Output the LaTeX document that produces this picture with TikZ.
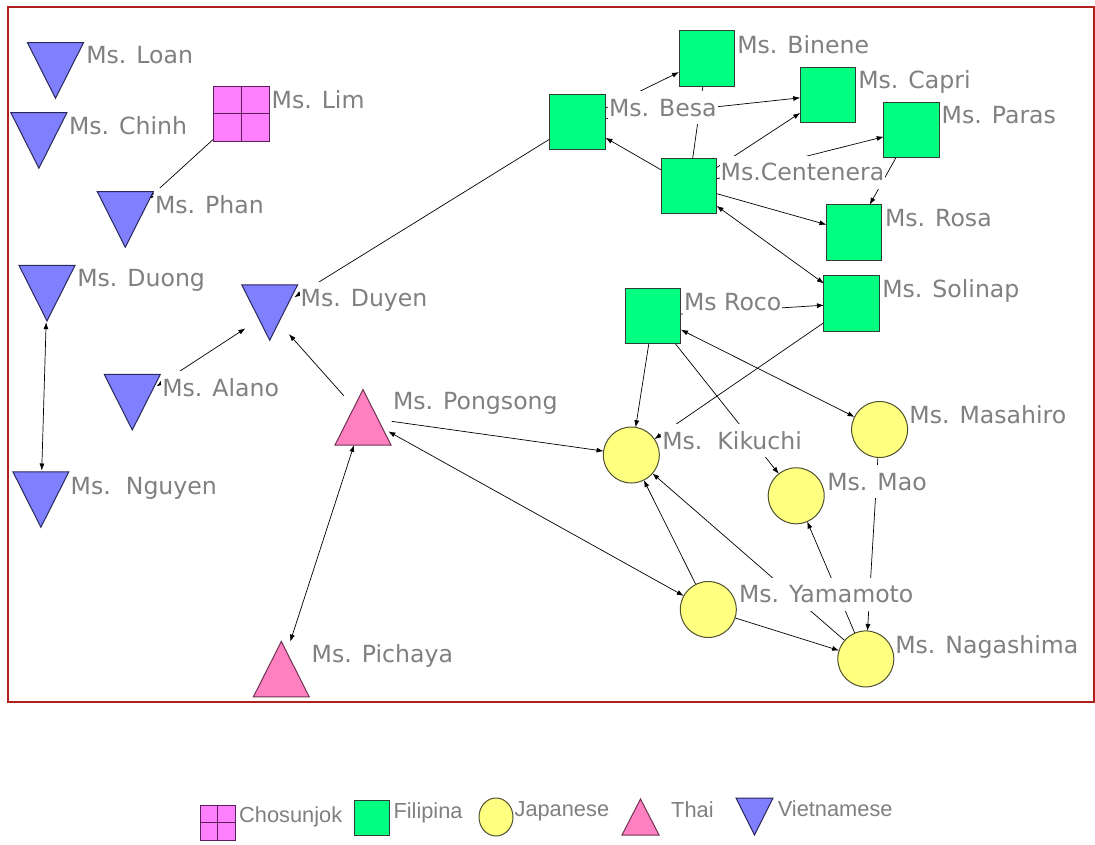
\documentclass[tikz,border=0pt]{standalone}
\usepackage{fontspec}
\usetikzlibrary{arrows.meta,shapes.geometric}
\newfontfamily\lblfont{DejaVu Sans}
\newfontfamily\legfont{Liberation Sans}

\definecolor{framered}{RGB}{176,32,28}
\definecolor{vietfill}{RGB}{128,128,255}
\definecolor{vietline}{RGB}{40,40,90}
\definecolor{filfill}{RGB}{0,255,128}
\definecolor{filline}{RGB}{50,60,50}
\definecolor{japfill}{RGB}{255,255,128}
\definecolor{japline}{RGB}{80,80,50}
\definecolor{thaifill}{RGB}{255,128,192}
\definecolor{thailine}{RGB}{110,50,80}
\definecolor{chofill}{RGB}{255,128,255}
\definecolor{choline}{RGB}{90,30,90}
\definecolor{lblgray}{RGB}{128,128,128}

\pgfdeclarelayer{bg}
\pgfdeclarelayer{edges}
\pgfdeclarelayer{labels}
\pgfsetlayers{bg,edges,labels,main}

\tikzset{
  % invisible round hull used by connectors; the triangle is drawn on top
  trihull/.style={circle, minimum size=#1, inner sep=0pt, outer sep=0pt},
  % downward triangle (Vietnamese), width #1, height #2
  tridown/.style 2 args={append after command={\pgfextra{
     \filldraw[fill=vietfill, draw=vietline, line width=1pt, line join=miter]
       ([shift={(-#1/2,-#2/2)}]\tikzlastnode.center) -- ++(#1,0) -- ++(-#1/2,#2) -- cycle;}}},
  % upward triangle (Thai), width #1, height #2
  triup/.style 2 args={append after command={\pgfextra{
     \filldraw[fill=thaifill, draw=thailine, line width=1pt, line join=miter]
       ([shift={(-#1/2,#2/2)}]\tikzlastnode.center) -- ++(#1,0) -- ++(-#1/2,-#2) -- cycle;}}},
  viet/.style={trihull=58pt, tridown={56}{55.5}},
  thai/.style={trihull=58pt, triup={56}{55.5}},
  fil/.style={rectangle, draw=filline, fill=filfill, line width=1pt,
    minimum size=#1, inner sep=0pt, outer sep=0pt},
  fil/.default=55.5pt,
  jap/.style={circle, draw=japline, fill=japfill, line width=1pt,
    minimum size=56pt, inner sep=0pt, outer sep=0pt},
  cho/.style={rectangle, draw=choline, fill=chofill, line width=1pt,
    minimum size=#1, inner sep=0pt, outer sep=0pt,
    path picture={\draw[choline, line width=1pt]
      (path picture bounding box.north) -- (path picture bounding box.south)
      (path picture bounding box.west) -- (path picture bounding box.east);}},
  cho/.default=55.5pt,
  lbl/.style={font=\lblfont\fontsize{23.6}{28}\selectfont, text=lblgray,
    fill=white, inner sep=1pt, text height=24pt, text depth=7pt, anchor=base west},
  leglbl/.style={font=\legfont\fontsize{21.8}{26}\selectfont, text=lblgray,
    inner sep=1pt, anchor=base west},
  tie/.style={draw=black, line width=0.7pt},
  >={Latex[length=7pt,width=5pt]},
}

\begin{document}
\begin{tikzpicture}[x=1pt,y=-1pt]
\useasboundingbox (0,0) rectangle (1095,845);

\begin{pgfonlayer}{bg}
  \fill[white] (0,0) rectangle (1095,845);
  \draw[framered, line width=2pt] (8,7) rectangle (1094,701.5);
\end{pgfonlayer}

% Vietnamese
\node[viet] (loan)   at (55.5,70.5) {};
\node[viet] (chinh)  at (38.9,140.5) {};
\node[viet] (phan)   at (125.3,219.5) {};
\node[viet] (duong)  at (47,293.2) {};
\node[viet] (duyen)  at (269.7,312.5) {};
\node[viet] (alano)  at (132.3,402.2) {};
\node[viet] (nguyen) at (40.9,499.5) {};
% Thai
\node[thai] (pongsong) at (363,417.3) {};
\node[thai] (pichaya)  at (281.3,669.2) {};
% Chosunjok
\node[cho] (lim) at (241.3,113.8) {};
% Filipina
\node[fil] (besa)      at (577.7,121.8) {};
\node[fil] (binene)    at (706.8,58.5) {};
\node[fil] (capri)     at (828,94.8) {};
\node[fil] (paras)     at (911.5,129.8) {};
\node[fil] (centenera) at (688.8,185.8) {};
\node[fil] (rosa)      at (854.2,232.5) {};
\node[fil] (solinap)   at (851.7,303.5) {};
\node[fil] (roco)      at (653.2,315.8) {};
% Japanese
\node[jap] (kikuchi)   at (631.3,455) {};
\node[jap] (masahiro)  at (879.6,429.5) {};
\node[jap] (mao)       at (796.2,495.8) {};
\node[jap] (yamamoto)  at (708.3,609.5) {};
\node[jap] (nagashima) at (865.8,658.9) {};

% ties
\begin{pgfonlayer}{edges}
  \draw[tie,->]  (lim) -- (phan);
  \draw[tie,<->] (duong) -- (nguyen);
  \draw[tie,<->] (alano) -- (duyen);
  \draw[tie,->]  (besa) -- (duyen);
  \draw[tie,->]  (pongsong) -- (duyen);
  \draw[tie,<->] (pichaya) -- (pongsong);
  \draw[tie,->]  (pongsong) -- (kikuchi);
  \draw[tie,<->] (yamamoto) -- (pongsong);
  \draw[tie,->]  (roco) -- (kikuchi);
  \draw[tie,->]  (roco) -- (mao);
  \draw[tie,<->] (roco) -- (masahiro);
  \draw[tie,->]  (solinap) -- (kikuchi);
  \draw[tie,->]  (roco) -- (solinap);
  \draw[tie,<->] (solinap) -- (centenera);
  \draw[tie,->]  (centenera) -- (rosa);
  \draw[tie,->]  (centenera) -- (besa);
  \draw[tie,->]  (centenera) -- (capri);
  \draw[tie,->]  (centenera) -- (paras);
  \draw[tie,->]  (paras) -- (rosa);
  \draw[tie,->]  (besa) -- (binene);
  \draw[tie,->]  (besa) -- (capri);
  \draw[tie]     (centenera) -- (binene);
  \draw[tie,->]  (yamamoto) -- (kikuchi);
  \draw[tie,->]  (nagashima) -- (kikuchi);
  \draw[tie,->]  (yamamoto) -- (nagashima);
  \draw[tie,->]  (nagashima) -- (mao);
  \draw[tie,->]  (masahiro) -- (nagashima);
\end{pgfonlayer}

% names
\begin{pgfonlayer}{labels}
  \node[lbl] (loanL)      at (85.1,64)     {Ms. Loan};
  \node[lbl] (chinhL)     at (67.8,134.4)  {Ms. Chinh};
  \node[lbl] (limL)       at (270.5,108.2) {Ms. Lim};
  \node[lbl] (phanL)      at (153.8,213.4) {Ms. Phan};
  \node[lbl] (duongL)     at (76.1,287)    {Ms. Duong};
  \node[lbl] (duyenL)     at (299.5,306.7) {Ms. Duyen};
  \node[lbl] (alanoL)     at (161.1,396)   {Ms. Alano};
  \node[lbl] (nguyenL)    at (69.5,494)    {Ms.\ \ Nguyen};
  \node[lbl] (pongsongL)  at (391.8,409.5) {Ms. Pongsong};
  \node[lbl] (pichayaL)   at (310.5,662.7) {Ms. Pichaya};
  \node[lbl] (kikuchiL)   at (661.1,449.2) {Ms.\ \ Kikuchi};
  \node[lbl] (masahiroL)  at (908.2,423.4) {Ms. Masahiro};
  \node[lbl] (maoL)       at (826.1,490)   {Ms. Mao};
  \node[lbl] (yamamotoL)  at (737.8,602.7) {Ms. Yamamoto};
  \node[lbl] (nagashimaL) at (894.1,653.4) {Ms. Nagashima};
  \node[lbl] (bineneL)    at (736.1,53.4)  {Ms. Binene};
  \node[lbl] (besaL)      at (607.8,116.2) {Ms. Besa};
  \node[lbl] (capriL)     at (857.1,88.7)  {Ms. Capri};
  \node[lbl] (parasL)     at (940.5,124)   {Ms. Paras};
  \node[lbl] (centeneraL) at (719.5,180.7) {Ms.Centenera};
  \node[lbl] (rosaL)      at (883.8,227)   {Ms. Rosa};
  \node[lbl] (solinapL)   at (881.1,297.7) {Ms. Solinap};
  \node[lbl] (rocoL)      at (682.8,310)   {Ms Roco};
\end{pgfonlayer}

% legend
\node[cho=35pt] (legCho) at (217.5,822.5) {};
\node[leglbl] (legChoL) at (238,822.8) {Chosunjok};
\node[fil=35pt] (legFil) at (371.7,817.5) {};
\node[leglbl] (legFilL) at (392.3,818.3) {Filipina};
\node[ellipse, draw=japline, fill=japfill, line width=1pt, minimum width=34pt,
      minimum height=38pt, inner sep=0pt] (legJap) at (496,817) {};
\node[leglbl] (legJapL) at (513.4,816.8) {Japanese};
\node[trihull=36pt, triup={37}{36}] (legThai) at (640.5,817) {};
\node[leglbl] (legThaiL) at (670,817.8) {Thai};
\node[trihull=36pt, tridown={37}{37}] (legViet) at (754.5,816.5) {};
\node[leglbl] (legVietL) at (776.6,816.8) {Vietnamese};
\end{tikzpicture}
\end{document}
